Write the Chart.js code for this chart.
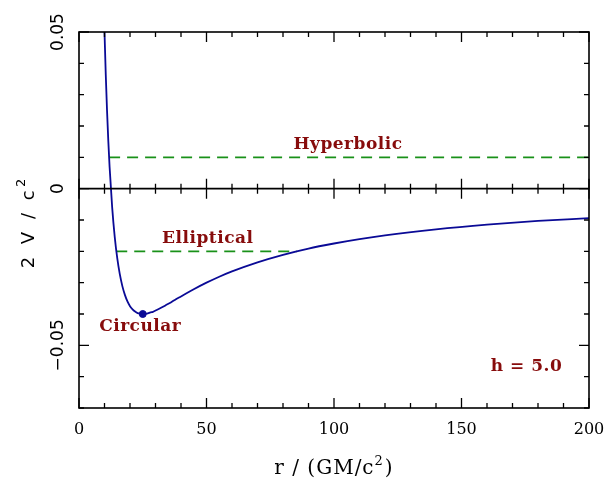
<!DOCTYPE html>
<html>
<head>
<meta charset="utf-8">
<script src="https://cdn.jsdelivr.net/npm/chart.js@4.4.0/dist/chart.umd.min.js"></script>
<style>
    html, body { margin: 0; padding: 0; background: #fff; }
</style>
</head>
<body>
<canvas id="chart" width="609" height="479"></canvas>
<script>
// effective potential
const radius = [10, 10.5, 11, 11.5, 12, 13, 14, 15, 16, 17, 18, 19, 20, 21, 22, 23, 24, 25, 26, 27, 28, 29, 30, 32, 34, 36, 38, 40, 45, 50, 55, 60, 70, 80, 90, 100, 110, 120, 140, 160, 180, 200];
const potential = [0.05, 0.0363, 0.0248, 0.0151, 0.0069, -0.0059, -0.0153, -0.0222, -0.0273, -0.0311, -0.0339, -0.0360, -0.0375, -0.0385, -0.0392, -0.0397, -0.0399, -0.04, -0.0399, -0.0398, -0.0395, -0.0393, -0.0389, -0.0381, -0.0372, -0.0363, -0.0353, -0.0344, -0.0321, -0.03, -0.0281, -0.0264, -0.0235, -0.0211, -0.0191, -0.0175, -0.0161, -0.0149, -0.013, -0.0115, -0.0103, -0.0094];

const hyperbolicR = [11.8, 200];
const hyperbolicV = [0.01, 0.01];
const ellipticalR = [14.6, 85.4];
const ellipticalV = [-0.02, -0.02];
const circularR = [25];
const circularV = [-0.04];

const xTickLabels = [0, 50, 100, 150, 200];
const yTickLabels = [0.05, 0, -0.05];
const orbitLabels = ['Hyperbolic', 'Elliptical', 'Circular', 'h = 5.0'];
const labelR = [105.5, 50.5, 24, 175.5];
const labelV = [0.0127, -0.0172, -0.0455, -0.0582];

const pts = (xs, ys) => xs.map((x, i) => ({ x: x, y: ys[i] }));

const textRed = 'rgb(135, 12, 12)';
const green = 'rgb(25, 145, 25)';
const navy = 'rgb(10, 10, 150)';

// draws a main string followed by a small raised "2" and optional tail, centred on cx
function supText(ctx, main, tail, cx, y, font, supFont, spacing, raise) {
    ctx.font = font;
    ctx.letterSpacing = spacing + 'px';
    const w1 = ctx.measureText(main).width;
    const w3 = tail ? ctx.measureText(tail).width : 0;
    ctx.font = supFont;
    const w2 = ctx.measureText('2').width + spacing;
    let x = cx - (w1 + w2 + w3) / 2;
    ctx.font = font;
    ctx.fillText(main, x, y);
    ctx.font = supFont;
    ctx.fillText('2', x + w1, y - raise);
    if (tail) {
        ctx.font = font;
        ctx.fillText(tail, x + w1 + w2, y);
    }
    ctx.letterSpacing = '0px';
}

const axesPlugin = {
    id: 'axesPlugin',
    afterDatasetsDraw(chart) {
        const ctx = chart.ctx;
        const a = chart.chartArea;
        const xs = chart.scales.x;
        const ys = chart.scales.y;
        ctx.save();
        ctx.strokeStyle = '#000';
        ctx.lineWidth = 1.6;
        ctx.strokeRect(a.left, a.top, a.right - a.left, a.bottom - a.top);

        const y0 = ys.getPixelForValue(0);
        ctx.beginPath();
        ctx.moveTo(a.left, y0);
        ctx.lineTo(a.right, y0);
        ctx.stroke();

        ctx.lineWidth = 1.3;
        ctx.beginPath();
        for (let v = 0; v <= 200; v += 10) {
            const px = xs.getPixelForValue(v);
            const len = v % 50 === 0 ? 10 : 5;
            ctx.moveTo(px, a.bottom); ctx.lineTo(px, a.bottom - len);
            ctx.moveTo(px, a.top); ctx.lineTo(px, a.top + len);
            ctx.moveTo(px, y0 - len); ctx.lineTo(px, y0 + len);
        }
        for (let k = -7; k <= 5; k++) {
            const py = ys.getPixelForValue(k / 100);
            const len = k % 5 === 0 ? 10 : 5;
            ctx.moveTo(a.left, py); ctx.lineTo(a.left + len, py);
            ctx.moveTo(a.right, py); ctx.lineTo(a.right - len, py);
        }
        ctx.stroke();

        // tick labels
        ctx.fillStyle = '#000';
        ctx.font = '16px "DejaVu Serif"';
        ctx.textAlign = 'center';
        ctx.textBaseline = 'alphabetic';
        xTickLabels.forEach(v => {
            ctx.fillText(String(v), xs.getPixelForValue(v), 434);
        });
        ctx.font = '17px "DejaVu Sans"';
        yTickLabels.forEach(v => {
            const py = ys.getPixelForValue(v);
            ctx.save();
            ctx.translate(63, py);
            ctx.rotate(-Math.PI / 2);
            ctx.fillText(v < 0 ? '\u2212' + String(-v) : String(v), 0, 0);
            ctx.restore();
        });

        // axis titles
        ctx.textAlign = 'left';
        supText(ctx, 'r / (GM/c', ')', (a.left + a.right) / 2, 474,
            '20px "DejaVu Serif"', '13px "DejaVu Serif"', 1, 9);

        ctx.save();
        ctx.translate(34, (a.top + a.bottom) / 2);
        ctx.rotate(-Math.PI / 2);
        supText(ctx, '2 V / c', '', 0, 0,
            '18px "DejaVu Sans"', '13px "DejaVu Sans"', 3.5, 9);
        ctx.restore();

        // orbit labels
        ctx.fillStyle = textRed;
        ctx.font = 'bold 17px "DejaVu Serif"';
        ctx.letterSpacing = '0.5px';
        ctx.textAlign = 'center';
        orbitLabels.forEach((t, i) => {
            ctx.fillText(t, xs.getPixelForValue(labelR[i]), ys.getPixelForValue(labelV[i]));
        });
        ctx.restore();
    }
};

new Chart(document.getElementById('chart'), {
    type: 'scatter',
    data: {
        datasets: [
            {
                data: pts(radius, potential),
                showLine: true,
                borderColor: navy,
                borderWidth: 1.8,
                pointRadius: 0,
                cubicInterpolationMode: 'monotone'
            },
            {
                data: pts(hyperbolicR, hyperbolicV),
                showLine: true,
                borderColor: green,
                borderWidth: 1.8,
                borderDash: [11, 7],
                pointRadius: 0
            },
            {
                data: pts(ellipticalR, ellipticalV),
                showLine: true,
                borderColor: green,
                borderWidth: 1.8,
                borderDash: [11, 7],
                pointRadius: 0
            },
            {
                data: pts(circularR, circularV),
                showLine: false,
                pointRadius: 3.5,
                pointBackgroundColor: navy,
                pointBorderColor: navy
            }
        ]
    },
    options: {
        responsive: false,
        animation: false,
        layout: { padding: { left: 79, top: 32, right: 20, bottom: 71 } },
        scales: {
            x: { type: 'linear', min: 0, max: 200, display: false },
            y: { type: 'linear', min: -0.07, max: 0.05, display: false }
        },
        plugins: {
            legend: { display: false },
            tooltip: { enabled: false }
        }
    },
    plugins: [axesPlugin]
});
</script>
</body>
</html>
